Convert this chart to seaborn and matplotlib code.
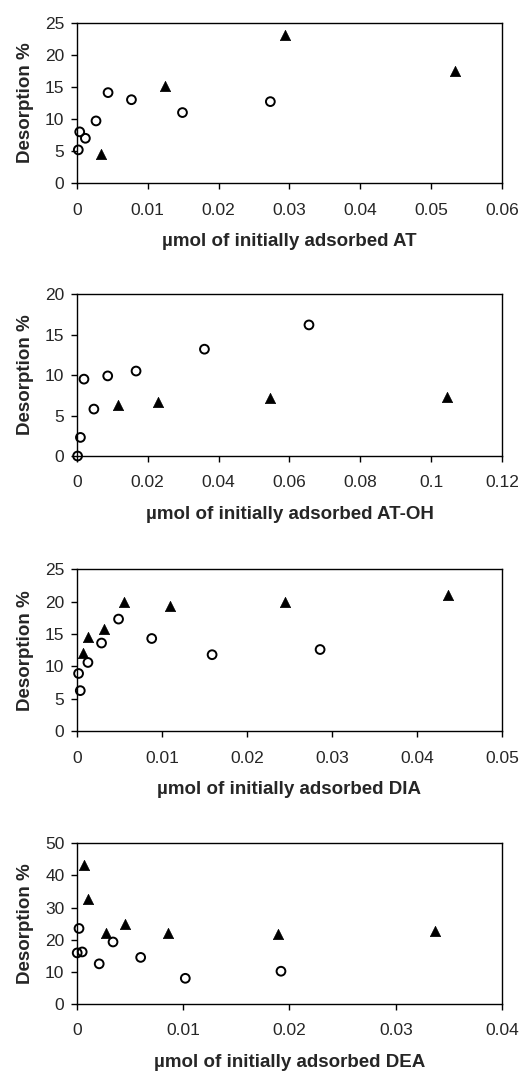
import matplotlib
matplotlib.use("Agg")
import matplotlib.pyplot as plt
import seaborn as sns

sns.set_style("white")
plt.rcParams['font.family'] = ['Liberation Sans', 'DejaVu Sans']

# AT
at_circ_x = [0.0002, 0.0004, 0.0012, 0.0027, 0.0044, 0.0077, 0.0149, 0.0273]
at_circ_y = [5.2, 8.0, 7.0, 9.7, 14.1, 13.0, 11.0, 12.7]
at_tri_x = [0.0034, 0.0125, 0.0294, 0.0533]
at_tri_y = [4.6, 15.2, 23.0, 17.4]

# AT-OH
atoh_circ_x = [0.0002, 0.001, 0.002, 0.0048, 0.0087, 0.0167, 0.036, 0.0655]
atoh_circ_y = [0.0, 2.3, 9.5, 5.8, 9.9, 10.5, 13.2, 16.2]
atoh_tri_x = [0.0115, 0.0228, 0.0545, 0.1045]
atoh_tri_y = [6.3, 6.65, 7.2, 7.35]

# DIA
dia_circ_x = [0.0002, 0.0004, 0.0013, 0.0029, 0.0049, 0.0088, 0.0159, 0.0286]
dia_circ_y = [8.9, 6.25, 10.6, 13.6, 17.3, 14.3, 11.8, 12.6]
dia_tri_x = [0.0007, 0.0013, 0.0032, 0.0055, 0.011, 0.0245, 0.0436]
dia_tri_y = [12.1, 14.6, 15.8, 20.0, 19.3, 20.0, 21.0]

# DEA
dea_circ_x = [0.00003, 0.0002, 0.0005, 0.0021, 0.0034, 0.006, 0.0102, 0.0192]
dea_circ_y = [15.9, 23.5, 16.2, 12.5, 19.3, 14.5, 8.0, 10.2]
dea_tri_x = [0.00066, 0.001, 0.0027, 0.0045, 0.0086, 0.0189, 0.0337]
dea_tri_y = [43.3, 32.7, 22.2, 24.9, 22.2, 21.8, 22.6]

panels = [
    (at_circ_x, at_circ_y, at_tri_x, at_tri_y, 0.06, 0.01, 25, 5, "µmol of initially adsorbed AT"),
    (atoh_circ_x, atoh_circ_y, atoh_tri_x, atoh_tri_y, 0.12, 0.02, 20, 5, "µmol of initially adsorbed AT-OH"),
    (dia_circ_x, dia_circ_y, dia_tri_x, dia_tri_y, 0.05, 0.01, 25, 5, "µmol of initially adsorbed DIA"),
    (dea_circ_x, dea_circ_y, dea_tri_x, dea_tri_y, 0.04, 0.01, 50, 10, "µmol of initially adsorbed DEA"),
]

# axes boxes in figure fractions (left, bottom, width, height)
boxes = [
    (0.147, 0.829, 0.813, 0.150),
    (0.147, 0.5746, 0.813, 0.151),
    (0.147, 0.318, 0.813, 0.151),
    (0.147, 0.0634, 0.813, 0.150),
]

fig = plt.figure(figsize=(5.23, 10.72), dpi=100)

for (cx, cy, tx, ty, xmax, xstep, ymax, ystep, xlabel), box in zip(panels, boxes):
    ax = fig.add_axes(box)
    sns.scatterplot(x=cx, y=cy, ax=ax, marker='o', s=40, facecolors='none',
                    edgecolor='black', linewidth=1.4, clip_on=False, zorder=3)
    sns.scatterplot(x=tx, y=ty, ax=ax, marker='^', s=55, color='black',
                    edgecolor='black', linewidth=0.5, clip_on=False, zorder=3)
    ax.set_xlim(0, xmax)
    ax.set_ylim(0, ymax)
    n = int(round(xmax / xstep))
    xt = [i * xstep for i in range(n + 1)]
    ax.set_xticks(xt)
    ax.set_xticklabels([("%.2f" % v).rstrip('0').rstrip('.') if v else "0" for v in xt])
    ax.set_yticks(range(0, ymax + 1, ystep))
    for sp in ax.spines.values():
        sp.set_visible(True)
        sp.set_color('black')
        sp.set_linewidth(1.0)
    ax.tick_params(axis='both', direction='out', length=4, width=1, color='black',
                   labelsize=12.5, pad=10, left=True, bottom=True)
    ax.tick_params(axis='y', pad=5)
    ax.set_xlabel(xlabel, fontsize=13.5, fontweight='bold', labelpad=11)
    ax.set_ylabel("Desorption %", fontsize=13.5, fontweight='bold', labelpad=8)
    ax.grid(False)

fig.savefig("out.png", dpi=100)
